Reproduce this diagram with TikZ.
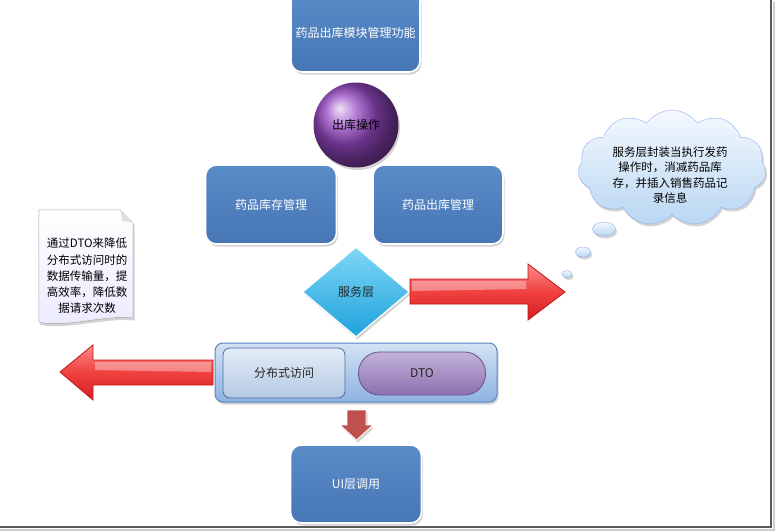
\documentclass[tikz,border=0pt]{standalone}
\usepackage{fontspec}
\setmainfont{Noto Sans CJK SC}
\usetikzlibrary{shapes.geometric,shapes.symbols,shadows}
\definecolor{boxtop}{HTML}{5A8CC8}
\definecolor{boxbot}{HTML}{4676B4}
\definecolor{dtop}{HTML}{7FD6F6}
\definecolor{dbot}{HTML}{1EA2DC}
\definecolor{ctop}{HTML}{D3E2F4}
\definecolor{cbot}{HTML}{8DB2E0}
\definecolor{cedge}{HTML}{5A87C2}
\definecolor{itop}{HTML}{E4ECF6}
\definecolor{ibot}{HTML}{B4C9E4}
\definecolor{iedge}{HTML}{4C6E9E}
\definecolor{ptop}{HTML}{C3B2DA}
\definecolor{pbot}{HTML}{8C70AE}
\definecolor{pedge}{HTML}{6A4E8E}
\definecolor{rtop}{HTML}{FF8A8A}
\definecolor{rmid}{HTML}{F04040}
\definecolor{rbot}{HTML}{D42020}
\definecolor{redge}{HTML}{C01818}
\definecolor{darkred}{HTML}{C0504D}
\definecolor{cloudtop}{HTML}{F4F9FE}
\definecolor{cloudbot}{HTML}{B9D6F2}
\definecolor{frame}{HTML}{5A5A5A}
\begin{document}
\begin{tikzpicture}[x=1pt,y=-1pt,
  font=\fontsize{12}{15}\selectfont,
  shade/.style={drop shadow={opacity=0.35,shadow xshift=1.5pt,shadow yshift=-2.5pt}},
  bluebox/.style={rectangle,rounded corners=11pt,draw=white,line width=1.6pt,
    top color=boxtop,bottom color=boxbot,text=white,shade},
  redarrow/.style={draw=redge,line width=0.8pt,top color=rtop,bottom color=rbot,middle color=rmid},
  bubble/.style={ellipse,draw=cloudbot!80!blue,line width=0.4pt,top color=cloudtop,bottom color=cloudbot,inner sep=0pt,shade}]
\useasboundingbox (0,0) rectangle (775,531);

% frame
\draw[frame!30,line width=2pt] (0,529.5) -- (773.5,529.5) -- (773.5,2);
\draw[frame,line width=1.6pt] (0,527) -- (771,527) -- (771,0);

% top box
\node[bluebox,minimum width=129pt,minimum height=82pt] (top) at (355.5,31) {};
\node[text=white] (toptext) at (355.5,33) {药品出库模块管理功能};

% sphere
\node[circle,minimum size=85pt,inner sep=0pt,shading=ball,ball color={rgb,255:red,150;green,72;blue,196},shade] (ball) at (356,125) {};
\node[text=black] (balltext) at (356,125) {出库操作};

% two boxes
\node[bluebox,minimum width=131pt,minimum height=79pt] (stock) at (271,204.5) {药品库存管理};
\node[bluebox,minimum width=130pt,minimum height=79pt] (out) at (438,204.5) {药品出库管理};

% diamond
\node[diamond,minimum width=107pt,minimum height=90pt,inner sep=0pt,aspect=1.19,
  draw=white,line width=1.2pt,top color=dtop,bottom color=dbot,shade,text=black!85] (svc) at (356,292) {服务层};

% right arrow
\draw[redarrow] (svc.east) ++(0,-13) coordinate (ra1) -- (528,279) -- (528,264) -- (565,292) -- (528,320) -- (528,304) -- (410,304) -- cycle;
\fill[white,opacity=0.35] (412,281) -- (526,281) -- (526,289) -- (412,291) -- cycle;

% cloud
\node[cloud,cloud puffs=11,cloud puff arc=110,aspect=1.55,minimum width=188pt,minimum height=116pt,
  draw=cloudbot!80!blue,line width=0.4pt,top color=cloudtop,bottom color=cloudbot,shade] (cloud) at (672,168) {};
\node[align=center,text=black,font=\fontsize{11.5}{15.5}\selectfont] (cloudtext) at (670,175)
  {服务层封装当执行发药\\操作时，消减药品库\\存，并插入销售药品记\\录信息};
\node[bubble,minimum width=23pt,minimum height=14pt] (b1) at (604,229) {};
\node[bubble,minimum width=15pt,minimum height=10pt] (b2) at (583,252) {};
\node[bubble,minimum width=10pt,minimum height=7pt] (b3) at (567,274) {};

% note
\node[minimum width=94pt,minimum height=112pt,inner sep=0pt] (note) at (86,266) {};
\path[draw=gray!70,line width=0.5pt,top color=white,bottom color=blue!8,shade]
  (note.north west) -- ([xshift=-13pt]note.north east) -- ([yshift=-13pt]note.north east)
  -- ([yshift=4pt]note.south east) .. controls ([xshift=-25pt,yshift=8pt]note.south east) and ([xshift=25pt,yshift=-6pt]note.south west) .. (note.south west) -- cycle;
\fill[gray!25] ([xshift=-13pt]note.north east) -- ([xshift=-11pt,yshift=-11pt]note.north east) -- ([yshift=-13pt]note.north east) -- cycle;
\node[align=center,text=black,font=\fontsize{11.5}{16.2}\selectfont] (notetext) at (87,276)
  {通过DTO来降低\\分布式访问时的\\数据传输量，提\\高效率，降低数\\据请求次数};

% container
\node[rectangle,rounded corners=8pt,minimum width=282pt,minimum height=59pt,draw=cedge,line width=1pt,
  top color=ctop,bottom color=cbot,shade] (cont) at (356,372.5) {};
\node[rectangle,rounded corners=7pt,minimum width=122pt,minimum height=50pt,draw=iedge,line width=0.8pt,
  top color=itop,bottom color=ibot,text=black!85] (dist) at (284,373) {分布式访问};
\node[rectangle,rounded corners=21pt,minimum width=127pt,minimum height=43pt,draw=pedge,line width=0.8pt,
  top color=ptop,bottom color=pbot,text=black!85] (dto) at (422,373.5) {DTO};

% left arrow
\draw[redarrow] (213,360) -- (93,360) -- (93,345) -- (60,372) -- (93,400) -- (93,385) -- (213,385) -- cycle;
\fill[white,opacity=0.35] (211,362) -- (95,362) -- (95,370) -- (211,372) -- cycle;

% down arrow
\draw[draw=white,line width=0.8pt,fill=darkred,shade] (347,410) -- (366,410) -- (366,425) -- (373,425) -- (356.5,440) -- (340,425) -- (347,425) -- cycle;

% bottom box
\node[bluebox,minimum width=131pt,minimum height=78pt] (ui) at (356,484) {UI层调用};
\end{tikzpicture}
\end{document}
